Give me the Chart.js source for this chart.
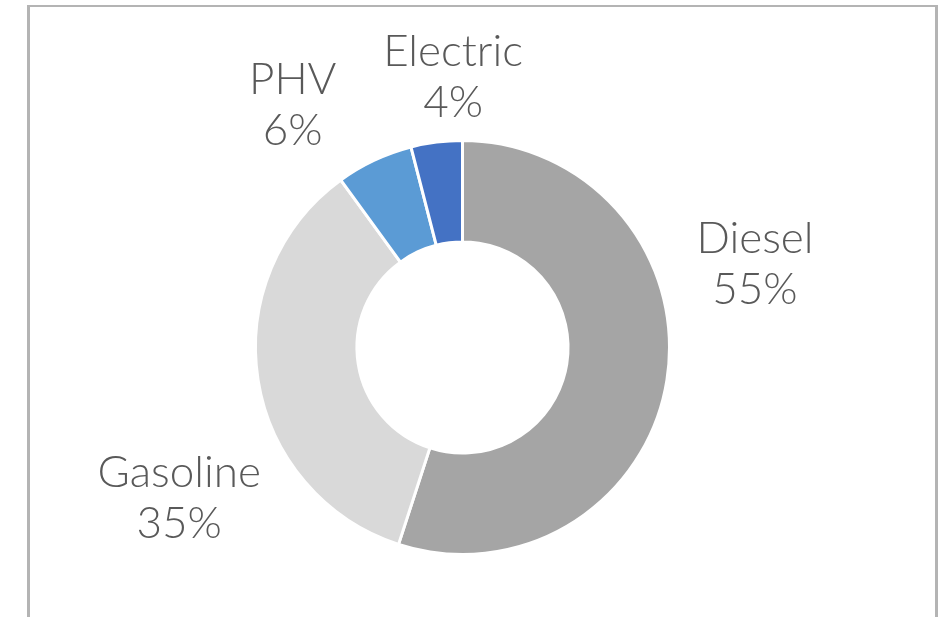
<!DOCTYPE html>
<html>
<head>
<meta charset="utf-8">
<script src="https://cdn.jsdelivr.net/npm/chart.js@4.4.1/dist/chart.umd.min.js"></script>
<style>
  html, body { margin: 0; padding: 0; background: #fff; overflow: hidden; }
  #wrap { position: relative; width: 945px; height: 617px; }
  #frame {
    position: absolute; left: 27px; top: 5px; width: 905px; height: 640px;
    border: 3px solid #b4b4b4; border-bottom: none; border-top-width: 2px;
  }
  canvas { position: absolute; left: 0; top: 0; }
</style>
</head>
<body>
<div id="wrap">
  <div id="frame"></div>
  <canvas id="fuelChart" width="945" height="617"></canvas>
</div>
<script>
const fuelTypes = ["Diesel", "Gasoline", "PHV", "Electric"];
const shares = [55, 35, 6, 4];
const sliceColors = ["#a5a5a5", "#d9d9d9", "#5b9bd5", "#4472c4"];

// where each label sits: angle clockwise from 12 o'clock, distance in outer radii
const labelAngles = [74, 242, 325, 358];
const labelDistances = [1.47, 1.55, 1.43, 1.31];

const sliceLabels = {
  id: "sliceLabels",
  afterDatasetsDraw(chart) {
    const ctx = chart.ctx;
    const arcs = chart.getDatasetMeta(0).data;
    const total = shares.reduce((a, b) => a + b, 0);
    ctx.save();
    ctx.fillStyle = "#595959";
    ctx.font = "300 44px Lato";
    ctx.textAlign = "center";
    ctx.textBaseline = "middle";
    arcs.forEach((arc, i) => {
      const a = (labelAngles[i] - 90) * Math.PI / 180;
      const d = arc.outerRadius * labelDistances[i];
      const x = arc.x + Math.cos(a) * d;
      const y = arc.y + Math.sin(a) * d;
      const pct = Math.round(shares[i] / total * 100) + "%";
      ctx.fillText(fuelTypes[i], x, y - 25);
      ctx.fillText(pct, x, y + 26);
    });
    ctx.restore();
  }
};

new Chart(document.getElementById("fuelChart").getContext("2d"), {
  type: "doughnut",
  data: {
    labels: fuelTypes,
    datasets: [
      {
        data: shares,
        backgroundColor: sliceColors,
        borderColor: "#ffffff",
        borderWidth: 3,
      },
    ],
  },
  options: {
    responsive: false,
    animation: false,
    cutout: "51%",
    layout: { padding: { top: 139, bottom: 61, left: 199, right: 219 } },
    plugins: {
      legend: { display: false },
      tooltip: { enabled: false },
    },
  },
  plugins: [sliceLabels],
});
</script>
</body>
</html>
